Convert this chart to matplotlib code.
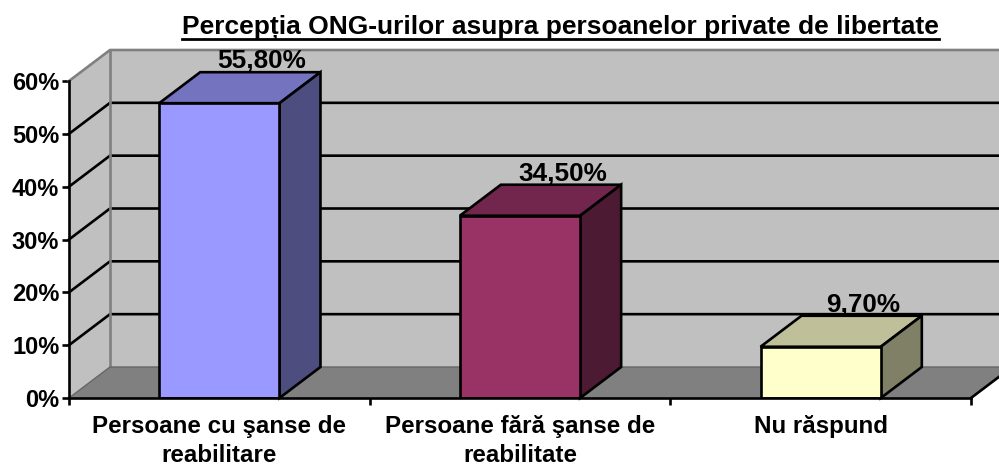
import matplotlib
matplotlib.use('Agg')
import matplotlib.pyplot as plt
from matplotlib.patches import Polygon

plt.rcParams['font.family'] = ['Liberation Sans', 'DejaVu Sans']
plt.rcParams['font.weight'] = 'bold'

categories = ['Persoane cu şanse de\nreabilitare', 'Persoane fără şanse de\nreabilitate', 'Nu răspund']
values = [55.8, 34.5, 9.7]
value_labels = ['55,80%', '34,50%', '9,70%']
y_ticks = [0, 10, 20, 30, 40, 50, 60]
y_labels = ['0%', '10%', '20%', '30%', '40%', '50%', '60%']
face_colors = ['#9999FF', '#993366', '#FFFFCC']
top_colors = ['#7373BF', '#73264D', '#BFBF99']
side_colors = ['#4D4D80', '#4D1A33', '#808066']
title = 'Percepţia ONG-urilor asupra persoanelor private de libertate'.replace('ţ', 'ț')

W, H = 999, 466
LW = 1.9
fig = plt.figure(figsize=(W / 100, H / 100), dpi=100)
ax = fig.add_axes([69 / W, 1 - 398 / H, 902 / W, 317 / H])
ax.set_xlim(0, 3)
ax.set_ylim(0, 60)

# depth of the fake 3d box, in data units
dx = 41 * 3 / 902
dy = 31 * 60 / 317


def box_poly(pts, color, z, edge='none', lw=0):
    ax.add_patch(Polygon(pts, closed=True, facecolor=color, edgecolor=edge,
                         linewidth=lw, zorder=z, clip_on=False, joinstyle='miter'))


# walls and floor
box_poly([(dx, dy), (3 + dx, dy), (3 + dx, 60 + dy), (dx, 60 + dy)], '#C0C0C0', 1)
box_poly([(0, 0), (dx, dy), (dx, 60 + dy), (0, 60)], '#C0C0C0', 1)
box_poly([(0, 0), (3, 0), (3 + dx, dy), (dx, dy)], '#808080', 1)

# gridlines go along the side wall, then the back wall
for t in y_ticks[1:-1]:
    ax.plot([0, dx, 3 + dx], [t, t + dy, t + dy], color='black', lw=LW, zorder=2, clip_on=False)

# wall edges
ax.plot([0, dx, 3 + dx], [60, 60 + dy, 60 + dy], color='#808080', lw=LW, zorder=2, clip_on=False)
ax.plot([dx, dx], [dy, 60 + dy], color='#808080', lw=LW, zorder=2, clip_on=False)
ax.plot([0, dx, 3 + dx], [0, dy, dy], color='#666666', lw=1, zorder=2, clip_on=False)
ax.plot([3, 3 + dx], [0, dy], color='black', lw=LW, zorder=2, clip_on=False)

# bars
pos = [0.5, 1.5, 2.5]
bar_w = 0.4
ax.bar(pos, values, width=bar_w, color=face_colors, edgecolor='black', linewidth=LW, zorder=4)
for p, v, tc, sc, lab in zip(pos, values, top_colors, side_colors, value_labels):
    l, r = p - bar_w / 2, p + bar_w / 2
    box_poly([(l, v), (r, v), (r + dx, v + dy), (l + dx, v + dy)], tc, 3, 'black', LW)
    box_poly([(r, 0), (r + dx, dy), (r + dx, v + dy), (r, v)], sc, 3, 'black', LW)
    ax.annotate(lab, xy=(p + dx, v + dy), xytext=(1, 3), textcoords='offset points',
                ha='center', va='baseline', fontsize=18.8, fontweight='bold', zorder=5,
                annotation_clip=False)

# axes
for s in ['top', 'right']:
    ax.spines[s].set_visible(False)
for s in ['left', 'bottom']:
    ax.spines[s].set_linewidth(LW)
    ax.spines[s].set_zorder(6)
ax.patch.set_visible(False)
ax.set_yticks(y_ticks)
ax.set_yticklabels(y_labels, fontsize=17, fontweight='bold')
ax.tick_params(axis='y', length=5, width=LW, pad=2)
ax.set_xticks([0, 1, 2, 3])
ax.set_xticklabels([])
ax.tick_params(axis='x', which='major', length=5, width=LW)
ax.set_xticks(pos, minor=True)
ax.set_xticklabels(categories, minor=True, fontsize=17.4, fontweight='bold', linespacing=1.32)
ax.tick_params(axis='x', which='minor', length=0, pad=12.5)

# underlined title
t = fig.text(560.5 / W, 1 - 34.5 / H, title, ha='center', va='baseline', fontsize=19, fontweight='bold')
fig.canvas.draw()
bb = t.get_window_extent()
fig.add_artist(plt.Line2D([bb.x0 / W, bb.x1 / W], [1 - 38.5 / H, 1 - 38.5 / H], color='black', lw=2))

fig.savefig('out.png', dpi=100)
